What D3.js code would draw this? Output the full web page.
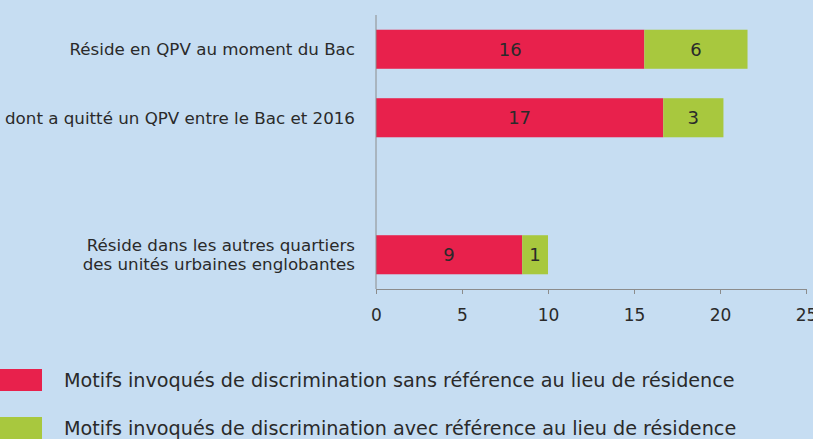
<!DOCTYPE html>
<html>
<head>
<meta charset="utf-8">
<script src="https://cdn.jsdelivr.net/npm/d3@7"></script>
<style>
  html, body { margin: 0; padding: 0; background: #c6ddf2; }
  svg { display: block; font-family: "DejaVu Sans", sans-serif; }
</style>
</head>
<body>
<div id="chart"></div>
<script>
// categories (empty slot keeps the gap between the groups)
const categories = ['qpv', 'quitte', 'gap', 'autres'];
const categoryLabels = [
    ['Réside en QPV au moment du Bac'],
    ['dont a quitté un QPV entre le Bac et 2016'],
    [],
    ['Réside dans les autres quartiers', 'des unités urbaines englobantes']
];
const sansRef = [15.6, 16.7, null, 8.5];
const avecRef = [6.0, 3.5, null, 1.5];
const sansLabels = ['16', '17', '', '9'];
const avecLabels = ['6', '3', '', '1'];
const xTicks = [0, 5, 10, 15, 20, 25];
const seriesNames = [
    'Motifs invoqués de discrimination sans référence au lieu de résidence',
    'Motifs invoqués de discrimination avec référence au lieu de résidence'
];
const colors = ['#e8214c', '#a8c83e'];

const width = 813, height = 439;
const svg = d3.select('#chart').append('svg')
    .attr('width', width)
    .attr('height', height);

const x = d3.scaleLinear().domain([0, 25]).range([376, 806]);
const y = d3.scaleBand().domain(categories).range([15, 289]).paddingInner(0.43).paddingOuter(0.215);

// bars
const rows = categories.map((c, i) => ({ c, i })).filter(d => sansRef[d.i] != null);

const segs = [];
rows.forEach(d => {
    segs.push({ c: d.c, x0: 0, x1: sansRef[d.i], label: sansLabels[d.i], s: 0 });
    segs.push({ c: d.c, x0: sansRef[d.i], x1: sansRef[d.i] + avecRef[d.i], label: avecLabels[d.i], s: 1 });
});

svg.append('g').selectAll('rect')
    .data(segs)
    .enter().append('rect')
    .attr('x', d => x(d.x0))
    .attr('y', d => y(d.c))
    .attr('width', d => x(d.x1) - x(d.x0))
    .attr('height', y.bandwidth())
    .attr('fill', d => colors[d.s]);

svg.append('g').selectAll('text')
    .data(segs)
    .enter().append('text')
    .attr('x', d => (x(d.x0) + x(d.x1)) / 2)
    .attr('y', d => y(d.c) + y.bandwidth() / 2)
    .attr('dy', '0.36em')
    .attr('text-anchor', 'middle')
    .attr('font-size', 18)
    .attr('fill', '#2a2a2a')
    .text(d => d.label);

// x axis
const xAxis = svg.append('g')
    .attr('transform', 'translate(0,289)')
    .call(d3.axisBottom(x).tickValues(xTicks).tickSize(5).tickPadding(15));
xAxis.select('.domain').attr('stroke', '#8c8c8c');
xAxis.selectAll('.tick line').attr('stroke', '#8c8c8c');
xAxis.selectAll('.tick text')
    .attr('font-size', 17)
    .attr('font-family', '"DejaVu Sans", sans-serif')
    .attr('fill', '#2a2a2a');

// y axis line
svg.append('line')
    .attr('x1', x(0)).attr('x2', x(0))
    .attr('y1', 15).attr('y2', 289)
    .attr('stroke', '#8c8c8c');

// category labels
const catG = svg.append('g');
categories.forEach((c, i) => {
    const lines = categoryLabels[i];
    if (!lines.length) return;
    const cy = y(c) + y.bandwidth() / 2;
    const lh = 19.5;
    const t = catG.append('text')
        .attr('text-anchor', 'end')
        .attr('font-size', 16.7)
        .attr('fill', '#2a2a2a');
    lines.forEach((l, j) => {
        t.append('tspan')
            .attr('x', 355)
            .attr('y', cy + (j - (lines.length - 1) / 2) * lh)
            .attr('dy', '0.35em')
            .text(l);
    });
});

// legend
const legend = svg.append('g');
seriesNames.forEach((name, i) => {
    const ly = 369 + i * 48;
    legend.append('rect')
        .attr('x', 0).attr('y', ly)
        .attr('width', 42).attr('height', 22)
        .attr('fill', colors[i]);
    legend.append('text')
        .attr('x', 64).attr('y', ly + 11)
        .attr('dy', '0.35em')
        .attr('font-size', 19.2)
        .attr('fill', '#2a2a2a')
        .text(name);
});
</script>
</body>
</html>
